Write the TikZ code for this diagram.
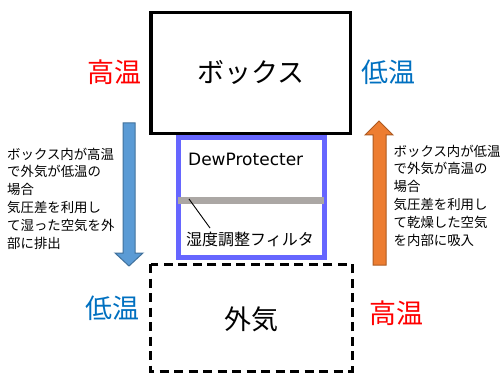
\documentclass[tikz,border=0pt]{standalone}
\usepackage{fontspec}
\setmainfont{Noto Sans CJK JP}
\newfontfamily\dvfont{DejaVu Sans}
\definecolor{hotred}{RGB}{255,0,0}
\definecolor{coldblue}{RGB}{0,112,192}
\definecolor{filterblue}{RGB}{102,102,255}
\definecolor{filtergray}{RGB}{171,167,164}
\definecolor{arrowblue}{RGB}{91,155,213}
\definecolor{arrowblueedge}{RGB}{65,113,156}
\definecolor{arroworange}{RGB}{237,125,49}
\definecolor{arroworangeedge}{RGB}{174,90,33}
\tikzset{
  big/.style={font=\fontsize{27}{30}\selectfont, inner sep=0pt},
  templabel/.style={font=\fontsize{27}{30}\selectfont, inner sep=0pt},
  note/.style={font=\fontsize{13.4}{17.9}\selectfont, align=left, anchor=north west, inner sep=0pt},
  boxframe/.style={draw=black, line width=3.3pt, fill=white},
}
\begin{document}
\begin{tikzpicture}[x=1pt,y=-1pt]
\useasboundingbox (0,0) rectangle (502,374);
% filter unit
\draw[filterblue, line width=5pt, fill=white] (178,137) rectangle (324,257.5);
\fill[filtergray] (178,196.5) rectangle (324,203.5);
% box
\draw[boxframe] (151,12.3) rectangle (350.7,133.3);
\node[big] (box) at (251,72) {ボックス};
% outside air
\draw[black, line width=3pt, dash pattern=on 9pt off 5.5pt] (150.7,264) rectangle (352,371);
\node[big] (air) at (251,319) {外気};
% labels
\node[templabel, text=hotred] (hot1) at (114.5,72) {高温};
\node[templabel, text=coldblue] (cold1) at (388,72) {低温};
\node[templabel, text=coldblue] (cold2) at (112.5,308) {低温};
\node[templabel, text=hotred] (hot2) at (396.5,313) {高温};
% filter texts
\node[font=\dvfont\fontsize{17}{20}\selectfont, anchor=west, inner sep=0pt] (dew) at (188,159) {DewProtecter};
\node[font=\fontsize{16}{18}\selectfont, anchor=west, inner sep=0pt] (flt) at (186,239) {湿度調整フィルタ};
\coordinate (barpt) at (189,199);
\draw[black, line width=0.9pt] (barpt) -- (210,228);
% block arrows
\draw[fill=arrowblue, draw=arrowblueedge, line width=1pt]
  (123,123) -- (135,123) -- (135,253) -- (143,253) -- (129,266) -- (115,253) -- (123,253) -- cycle;
\draw[fill=arroworange, draw=arroworangeedge, line width=1pt]
  (379,121) -- (393,135) -- (386,135) -- (386,265) -- (373,265) -- (373,135) -- (365,135) -- cycle;
% notes
\node[note] (lnote) at (7,147.5) {ボックス内が高温\\で外気が低温の\\場合\\気圧差を利用し\\て湿った空気を外\\部に排出};
\node[note] (rnote) at (393.5,144.5) {ボックス内が低温\\で外気が高温の\\場合\\気圧差を利用し\\て乾燥した空気\\を内部に吸入};
\end{tikzpicture}
\end{document}
